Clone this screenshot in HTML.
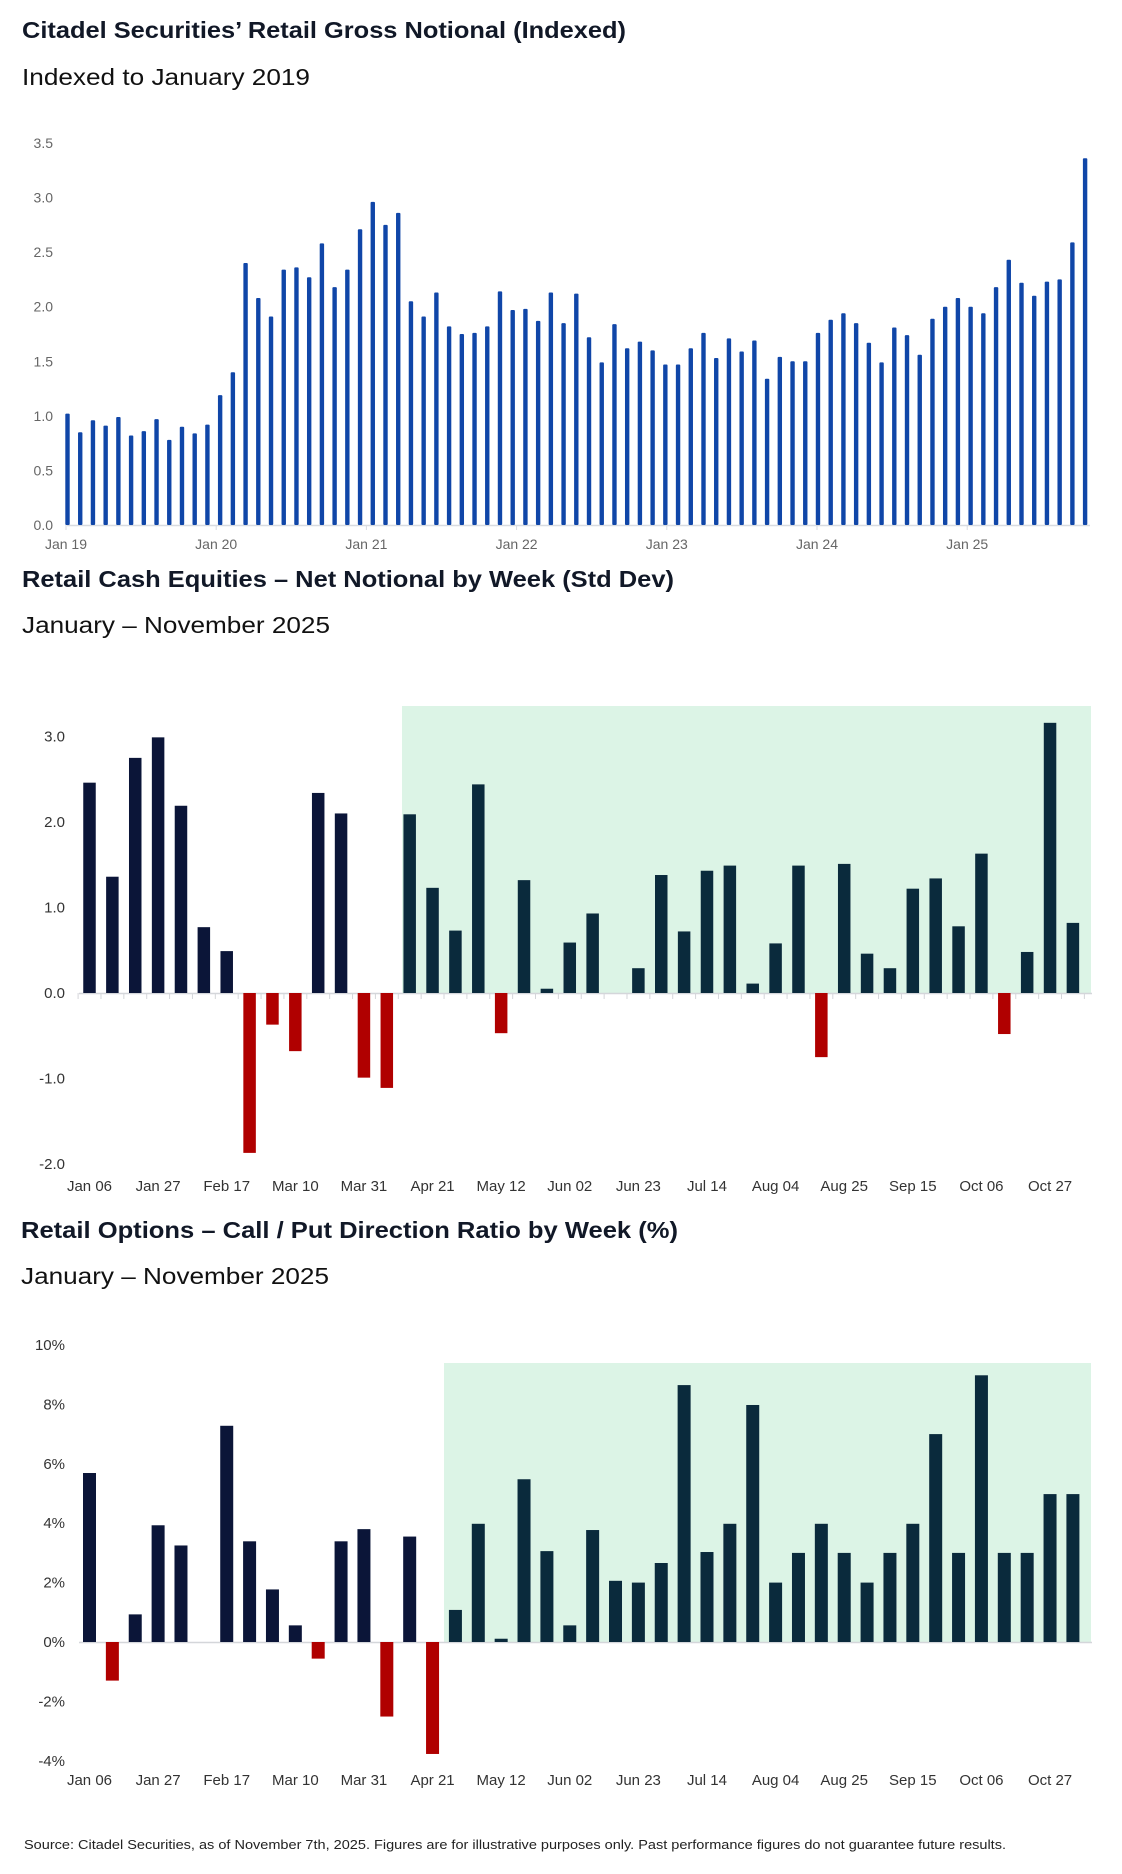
<!DOCTYPE html>
<html><head><meta charset="utf-8"><style>
html,body{margin:0;padding:0;background:#fff;}
svg{display:block;font-family:"Liberation Sans",sans-serif;}
</style></head><body>
<svg id="s" width="1122" height="1874" viewBox="0 0 1122 1874" xmlns="http://www.w3.org/2000/svg">
<text x="22" y="38" font-size="23" font-weight="bold" fill="#111827" textLength="604" lengthAdjust="spacingAndGlyphs">Citadel Securities’ Retail Gross Notional (Indexed)</text>
<text x="22" y="85" font-size="23" fill="#111" textLength="288" lengthAdjust="spacingAndGlyphs">Indexed to January 2019</text>
<text x="22" y="587" font-size="23" font-weight="bold" fill="#111827" textLength="652" lengthAdjust="spacingAndGlyphs">Retail Cash Equities – Net Notional by Week (Std Dev)</text>
<text x="22" y="633" font-size="23" fill="#111" textLength="308" lengthAdjust="spacingAndGlyphs">January – November 2025</text>
<text x="21" y="1238" font-size="23" font-weight="bold" fill="#111827" textLength="657" lengthAdjust="spacingAndGlyphs">Retail Options – Call / Put Direction Ratio by Week (%)</text>
<text x="21" y="1284" font-size="23" fill="#111" textLength="308" lengthAdjust="spacingAndGlyphs">January – November 2025</text>
<text x="24" y="1849" font-size="13" fill="#222" textLength="982" lengthAdjust="spacingAndGlyphs">Source: Citadel Securities, as of November 7th, 2025. Figures are for illustrative purposes only. Past performance figures do not guarantee future results.</text>
<g id="c1"></g>
<g id="c2"></g>
<g id="c3"></g>
</svg>
<script>
const grossValues=[1.02,0.85,0.96,0.91,0.99,0.82,0.86,0.97,0.78,0.90,0.84,0.92,1.19,1.40,2.40,2.08,1.91,2.34,2.36,2.27,2.58,2.18,2.34,2.71,2.96,2.75,2.86,2.05,1.91,2.13,1.82,1.75,1.76,1.82,2.14,1.97,1.98,1.87,2.13,1.85,2.12,1.72,1.49,1.84,1.62,1.68,1.60,1.47,1.47,1.62,1.76,1.53,1.71,1.59,1.69,1.34,1.54,1.50,1.50,1.76,1.88,1.94,1.85,1.67,1.49,1.81,1.74,1.56,1.89,2.00,2.08,2.00,1.94,2.18,2.43,2.22,2.10,2.23,2.25,2.59,3.36];
const grossTicks=["0.0","0.5","1.0","1.5","2.0","2.5","3.0","3.5"];
const grossYearLabels=["Jan 19","Jan 20","Jan 21","Jan 22","Jan 23","Jan 24","Jan 25"];
const weekLabels=["Jan 06","Jan 27","Feb 17","Mar 10","Mar 31","Apr 21","May 12","Jun 02","Jun 23","Jul 14","Aug 04","Aug 25","Sep 15","Oct 06","Oct 27"];
const cashValues=[2.46,1.36,2.75,2.99,2.19,0.77,0.49,-1.87,-0.37,-0.68,2.34,2.10,-0.99,-1.11,2.09,1.23,0.73,2.44,-0.47,1.32,0.05,0.59,0.93,0,0.29,1.38,0.72,1.43,1.49,0.11,0.58,1.49,-0.75,1.51,0.46,0.29,1.22,1.34,0.78,1.63,-0.48,0.48,3.16,0.82];
const cashTicks=[3,2,1,0,-1,-2];
const cashHighlightStart=14;
const optValues=[5.69,-1.3,0.93,3.93,3.25,0,7.28,3.39,1.77,0.56,-0.56,3.39,3.80,-2.51,3.55,-3.77,1.08,3.98,0.11,5.48,3.06,0.56,3.77,2.06,2.0,2.66,8.65,3.03,3.98,7.98,2.0,3.0,3.98,3.0,2.0,3.0,3.98,7.0,3.0,8.98,3.0,3.0,4.98,4.98];
const optTicks=[10,8,6,4,2,0,-2,-4];
const optHighlightStart=16;

const NS="http://www.w3.org/2000/svg";
function mk(parent,tag,attrs){const e=document.createElementNS(NS,tag);for(const k in attrs)e.setAttribute(k,attrs[k]);parent.appendChild(e);return e;}

// Chart 1
(function(){
  const g=document.getElementById('c1');
  const y=v=>525-(v/3.5)*(525-143);
  const x=i=>67.5+i*12.72;
  const lx=k=>66+k*150.2;
  grossTicks.forEach((t,i)=>{const el=mk(g,'text',{x:53,y:y(+t)+5,'font-size':14,fill:'#666','text-anchor':'end'});el.textContent=t;
    
    });
  const ax=mk(g,'line',{x1:67,x2:1090,y1:525.5,y2:525.5,stroke:'#d8dbe0','stroke-width':1.5});
  
  
  grossValues.forEach((v,i)=>{const r=mk(g,'rect',{x:x(i)-2.2,y:y(v),width:4.4,height:525-y(v),fill:'#1046a8',rx:1});
    
    });
  grossYearLabels.forEach((t,k)=>{const xx=lx(k);
    mk(g,'line',{x1:xx,x2:xx,y1:525,y2:530,stroke:'#d8dbe0'});
    const el=mk(g,'text',{x:xx,y:549,'font-size':14,fill:'#666','text-anchor':'middle'});el.textContent=t;
    
    });
})();

function weekChart(id,vals,ticks,zero,unitPx,hlStart,hlTop,fmt,barW,navy,teal,hlLeft){
  const g=document.getElementById(id);
  const x=i=>89.5+i*22.87;
  const y=v=>zero-v*unitPx;
  const bg=mk(g,'rect',{x:hlLeft,y:hlTop,width:1091-hlLeft,height:zero-hlTop,fill:'#dcf4e6'});
  
  
  ticks.forEach(t=>{const el=mk(g,'text',{x:65,y:y(t)+5,'font-size':15,fill:'#333','text-anchor':'end'});el.textContent=fmt(t);
    
    });
  const ax=mk(g,'line',{x1:79,x2:1092,y1:zero+0.5,y2:zero+0.5,stroke:'#d4d6da','stroke-width':1.5});
  
  
  vals.forEach((v,i)=>{
    const top=Math.min(y(v),zero),h=Math.abs(y(v)-zero);
    const col=v<0?'#b00000':(i>=hlStart?teal:navy);
    const r=mk(g,'rect',{x:x(i)-barW/2,y:top,width:barW,height:h,fill:col});
    
    
  });
  weekLabels.forEach((t,k)=>{const el=mk(g,'text',{x:x(k*3),y:zero+(id==='c2'?198:143),'font-size':15,fill:'#333','text-anchor':'middle'});el.textContent=t;
    
    });
  return {g,x};
}
const c2=weekChart('c2',cashValues,cashTicks,993,85.5,cashHighlightStart,706,t=>t.toFixed(1),12.5,'#0b1538','#0a2a3c',402);
for(let i=0;i<=cashValues.length;i++){const xx=c2.x(i)-11.4;mk(c2.g,'line',{x1:xx,x2:xx,y1:993,y2:999,stroke:'#d4d6da'});}
weekChart('c3',optValues,optTicks,1642,29.7,optHighlightStart,1363,t=>t+'%',13,'#0b1538','#0a2a3c',444);
</script>
</body></html>
